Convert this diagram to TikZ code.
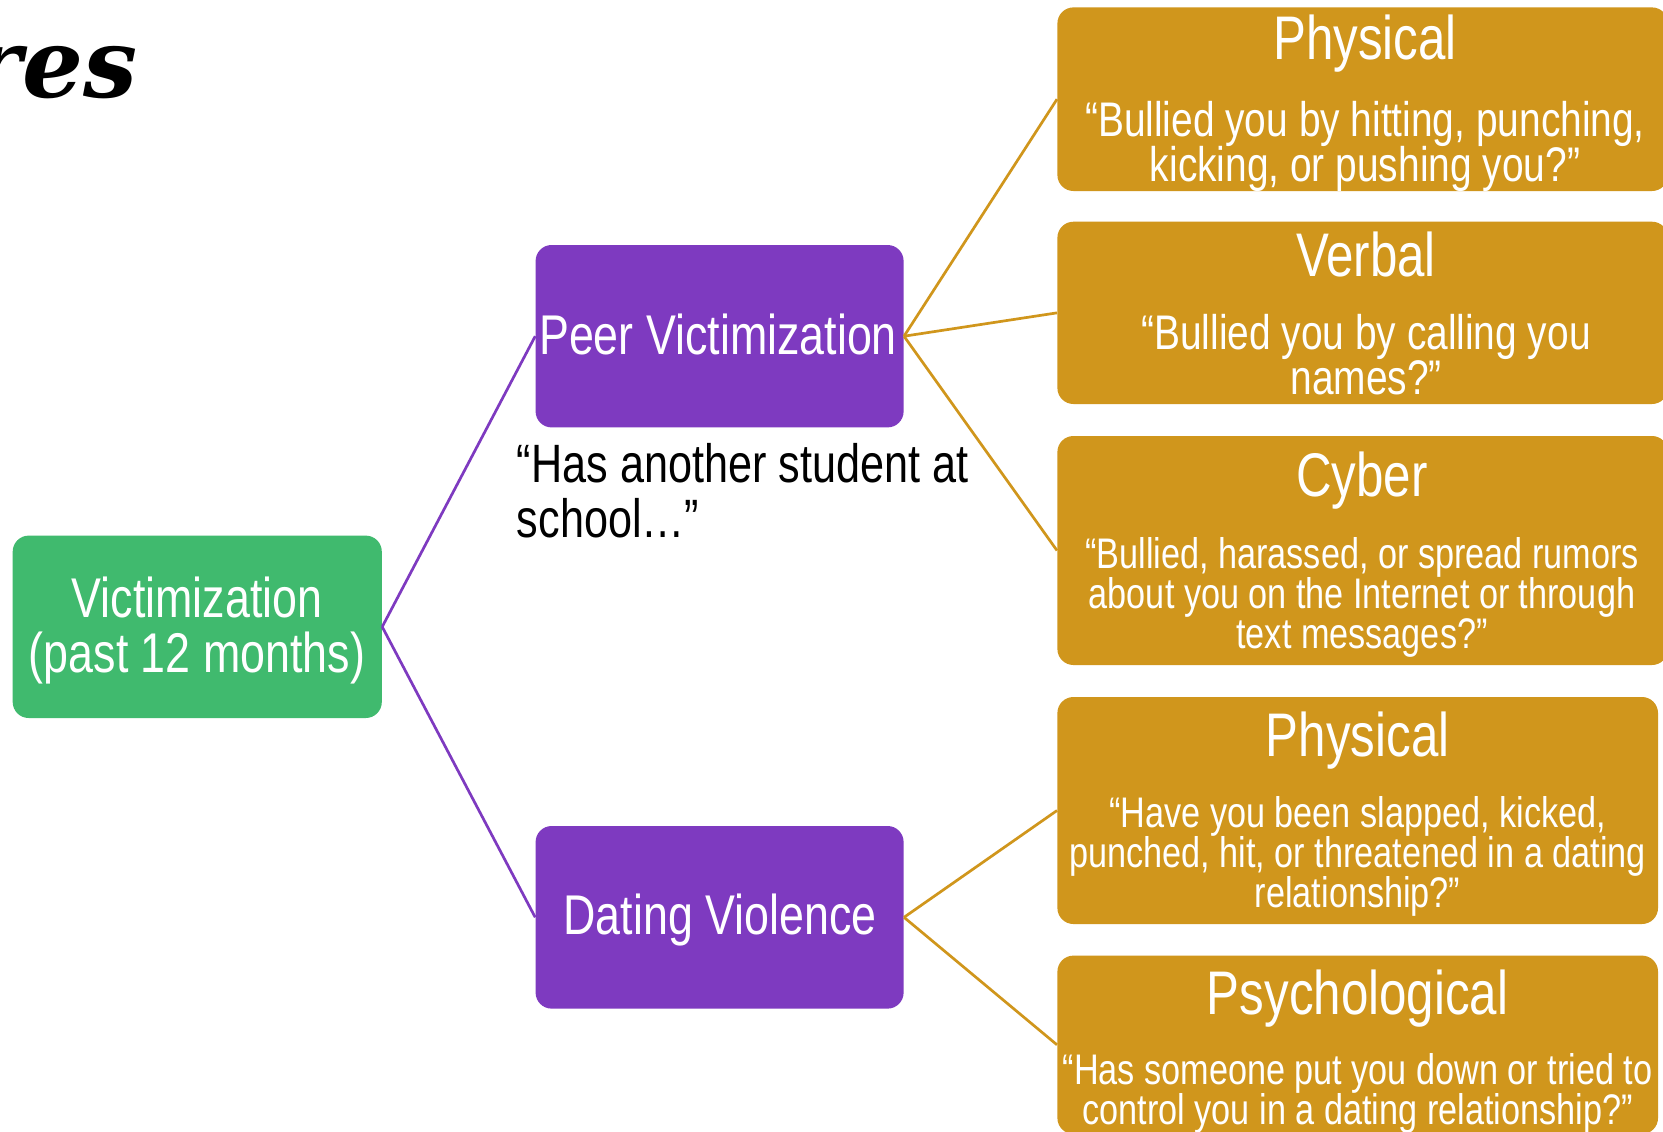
\documentclass[tikz,border=0pt]{standalone}
\usepackage{fontspec}
\setmainfont[FakeStretch=0.8]{Liberation Sans}
\newfontfamily\titlehand{DejaVu Serif}
\usetikzlibrary{fit}
\definecolor{vgreen}{RGB}{64,186,110}
\definecolor{vpurple}{RGB}{126,58,192}
\definecolor{vgold}{RGB}{208,150,28}
\begin{document}
\begin{tikzpicture}[x=0.5pt,y=-0.5pt,
  box/.style={rounded corners=8pt, inner sep=0pt, draw=none},
  rootbox/.style={box, fill=vgreen},
  midbox/.style={box, fill=vpurple},
  leafbox/.style={box, fill=vgold},
  boxtext/.style={text=white, align=center, inner sep=0pt, font=\fontsize{28}{27.5}\selectfont},
  head/.style={text=white, inner sep=0pt, font=\fontsize{30.8}{30.8}\selectfont},
  qbig/.style={text=white, align=center, inner sep=0pt, font=\fontsize{24.3}{22.8}\selectfont},
  qsmall/.style={text=white, align=center, inner sep=0pt, font=\fontsize{21.4}{20.1}\selectfont},
  plink/.style={draw=vpurple, line width=1.35pt},
  glink/.style={draw=vgold, line width=1.35pt}
]
\fill[white] (0,0) rectangle (1663,1131);
\useasboundingbox (0,0) rectangle (1663,1131);

% title fragment in the top-left corner
\node[anchor=base east, inner sep=0pt, font=\titlehand\bfseries\itshape\fontsize{48}{48}\selectfont] (title) at (138,97) {res};

% boxes
\node[rootbox, fit={(12.7,535.6) (381.8,718)}] (root) {};
\node[midbox, fit={(535.6,245) (903.6,427.4)}] (peer) {};
\node[midbox, fit={(535.6,826) (903.6,1008.6)}] (dating) {};

\node[leafbox, fit={(1057.4,7.4) (1668,191)}] (pphys) {};
\node[leafbox, fit={(1057.4,221.7) (1668,404)}] (pverb) {};
\node[leafbox, fit={(1057.4,436) (1668,665)}] (pcyber) {};
\node[leafbox, fit={(1057.4,697) (1658,924)}] (dphys) {};
\node[leafbox, fit={(1057.4,955.6) (1658,1134)}] (dpsych) {};

% box labels
\node[boxtext] (roottext) at (197,630.2) {Victimization\\(past 12 months)};
\node[boxtext] (peertext) at (718,334.5) {Peer Victimization};
\node[boxtext] (datingtext) at (720,919.7) {Dating Violence};

% stem text under the peer box
\node[anchor=west, align=left, inner sep=0pt, font=\fontsize{27}{27.5}\selectfont] (stem) at (516.5,491) {“Has another student at\\school…”};

% leaf texts
\node[head] (h1) at (1365,43.5) {Physical};
\node[qbig] (q1) at (1365,146.6) {“Bullied you by hitting, punching,\\kicking, or pushing you?”};
\node[head] (h2) at (1366,254.5) {Verbal};
\node[qbig] (q2) at (1366,354.8) {“Bullied you by calling you\\names?”};
\node[head] (h3) at (1362,481) {Cyber};
\node[qsmall] (q3) at (1362,597.3) {“Bullied, harassed, or spread rumors\\about you on the Internet or through\\text messages?”};
\node[head] (h4) at (1357.6,741) {Physical};
\node[qsmall] (q4) at (1357.6,856.4) {“Have you been slapped, kicked,\\punched, hit, or threatened in a dating\\relationship?”};
\node[head] (h5) at (1357.6,999) {Psychological};
\node[qsmall] (q5) at (1357.6,1093.6) {“Has someone put you down or tried to\\control you in a dating relationship?”};

% connectors
\draw[plink] (root.east) -- (peer.west);
\draw[plink] (root.east) -- (dating.west);
\draw[glink] (peer.east) -- (pphys.west);
\draw[glink] (peer.east) -- (pverb.west);
\draw[glink] (peer.east) -- (pcyber.west);
\draw[glink] (dating.east) -- (dphys.west);
\draw[glink] (dating.east) -- (dpsych.west);
\end{tikzpicture}
\end{document}
